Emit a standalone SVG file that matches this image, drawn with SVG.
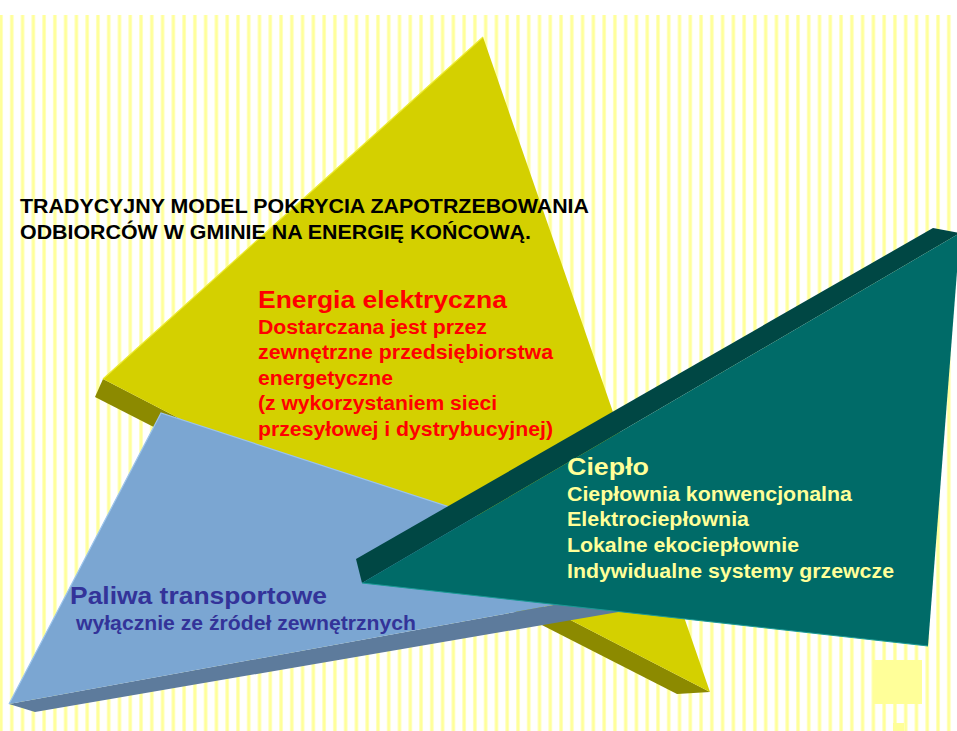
<svg xmlns="http://www.w3.org/2000/svg" width="957" height="731" viewBox="0 0 957 731">
  <defs>
    <linearGradient id="stripeGrad" x1="0" y1="0" x2="1" y2="0">
      <stop offset="0" stop-color="#ffffd0"/>
      <stop offset="0.5" stop-color="#ffff88"/>
      <stop offset="1" stop-color="#ffffd0"/>
    </linearGradient>
    <pattern id="stripes" patternUnits="userSpaceOnUse" x="9.8" y="0" width="10.77" height="731">
      <rect x="0" y="0" width="4" height="731" fill="url(#stripeGrad)"/>
    </pattern>
  </defs>
  <style>
    text { font-family: "Liberation Sans", Arial, sans-serif; font-weight: bold; }
    .title { font-size: 19.5px; fill: #000000; }
    .red-h { font-size: 24.5px; fill: #ff0000; }
    .red { font-size: 20px; fill: #ff0000; }
    .teal-h { font-size: 24.5px; fill: #ffff99; }
    .teal { font-size: 20px; fill: #ffff99; }
    .blue-h { font-size: 24.5px; fill: #333399; }
    .blue { font-size: 20px; fill: #333399; }
  </style>

  <rect x="0" y="0" width="957" height="731" fill="#ffffff"/>
  <rect x="0" y="15" width="957" height="716" fill="url(#stripes)"/>

  <g id="energia">
    <polygon points="103,379 95,397 677,694 710,692" fill="#8c8a00"/>
    <polygon points="483,37 103,379 710,692" fill="#d4d000"/>
    <polyline points="103,379 483,37" fill="none" stroke="#ecea30" stroke-width="1.2"/>
  </g>

  <g id="paliwa">
    <polygon points="9,704 35,712 700,598 680,582" fill="#5d7b9c"/>
    <polygon points="161,413 9,704 680,582" fill="#7ba6d2"/>
    <polyline points="9,704 161,413 680,582" fill="none" stroke="#9cc4ec" stroke-width="1.2"/>
  </g>

  <g id="cieplo">
    <polygon points="356,559 933,228 960,233 362,583" fill="#004744"/>
    <polygon points="362,583 960,233 928,646" fill="#006b68"/>
    <line x1="362" y1="583" x2="928" y2="646" stroke="#1a9a96" stroke-width="1"/>
  </g>

  <rect x="873" y="660" width="49" height="44" fill="#ffff99"/>
  <rect x="893" y="723" width="11" height="8" fill="#ffff99"/>

  <g id="connectors"/>

  <g id="title">
    <text class="title" x="20" y="213" textLength="569" lengthAdjust="spacingAndGlyphs">TRADYCYJNY MODEL POKRYCIA ZAPOTRZEBOWANIA</text>
    <text class="title" x="20" y="239" textLength="511" lengthAdjust="spacingAndGlyphs">ODBIORCÓW W GMINIE NA ENERGIĘ KOŃCOWĄ.</text>
  </g>

  <g id="energia-text">
    <text class="red-h" x="258" y="308" textLength="249" lengthAdjust="spacingAndGlyphs">Energia elektryczna</text>
    <text class="red" x="258" y="334" textLength="229" lengthAdjust="spacingAndGlyphs">Dostarczana jest przez</text>
    <text class="red" x="258" y="359" textLength="295" lengthAdjust="spacingAndGlyphs">zewnętrzne przedsiębiorstwa</text>
    <text class="red" x="258" y="385" textLength="135" lengthAdjust="spacingAndGlyphs">energetyczne</text>
    <text class="red" x="258" y="410" textLength="239" lengthAdjust="spacingAndGlyphs">(z wykorzystaniem sieci</text>
    <text class="red" x="258" y="436" textLength="295" lengthAdjust="spacingAndGlyphs">przesyłowej i dystrybucyjnej)</text>
  </g>

  <g id="cieplo-text">
    <text class="teal-h" x="567" y="475" textLength="82" lengthAdjust="spacingAndGlyphs">Ciepło</text>
    <text class="teal" x="567" y="501" textLength="285" lengthAdjust="spacingAndGlyphs">Ciepłownia konwencjonalna</text>
    <text class="teal" x="567" y="526" textLength="182" lengthAdjust="spacingAndGlyphs">Elektrociepłownia</text>
    <text class="teal" x="567" y="552" textLength="232" lengthAdjust="spacingAndGlyphs">Lokalne ekociepłownie</text>
    <text class="teal" x="567" y="578" textLength="327" lengthAdjust="spacingAndGlyphs">Indywidualne systemy grzewcze</text>
  </g>

  <g id="paliwa-text">
    <text class="blue-h" x="70" y="604" textLength="257" lengthAdjust="spacingAndGlyphs">Paliwa transportowe</text>
    <text class="blue" x="76" y="630" textLength="340" lengthAdjust="spacingAndGlyphs">wyłącznie ze źródeł zewnętrznych</text>
  </g>
</svg>
